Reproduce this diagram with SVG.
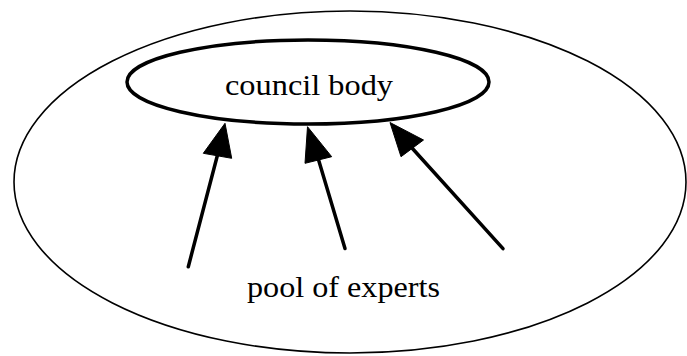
<svg xmlns="http://www.w3.org/2000/svg" width="687" height="356" viewBox="0 0 687 356">
  <style>
    .bg { fill: #ffffff; }
    .outer { fill: none; stroke: #000; stroke-width: 1.6; }
    .inner { fill: #ffffff; stroke: #000; stroke-width: 3.5; }
    .label { font-family: "Liberation Serif", "Times New Roman", serif; font-size: 30px; fill: #000; }
    .edge { stroke: #000; stroke-width: 3.5; stroke-linecap: round; fill: none; }
    .head { fill: #000; stroke: #000; stroke-width: 1; stroke-linejoin: miter; }
  </style>
  <rect class="bg" x="0" y="0" width="687" height="356"/>

  <!-- surrounding pool -->
  <g id="pool">
    <ellipse class="outer" cx="350" cy="182" rx="336" ry="171"/>
    <text class="label" x="247" y="296.5" textLength="193" lengthAdjust="spacingAndGlyphs">pool of experts</text>
  </g>

  <!-- council node -->
  <g id="council">
    <ellipse class="inner" cx="308" cy="82" rx="181" ry="42"/>
    <text class="label" x="225" y="95" textLength="168" lengthAdjust="spacingAndGlyphs">council body</text>
  </g>

  <!-- expert-to-council connectors -->
  <g id="connectors">
    <line class="edge" x1="188.3" y1="266.7" x2="217.5" y2="155"/>
    <polygon class="head" points="225,123.3 203.3,153.3 231.7,158.3"/>

    <line class="edge" x1="345" y1="248.5" x2="318.3" y2="159"/>
    <polygon class="head" points="307.5,126.7 305,163.3 331.7,156.7"/>

    <line class="edge" x1="503" y1="248.7" x2="412" y2="148"/>
    <polygon class="head" points="390,122.5 401,156.7 423.5,140"/>
  </g>
</svg>
